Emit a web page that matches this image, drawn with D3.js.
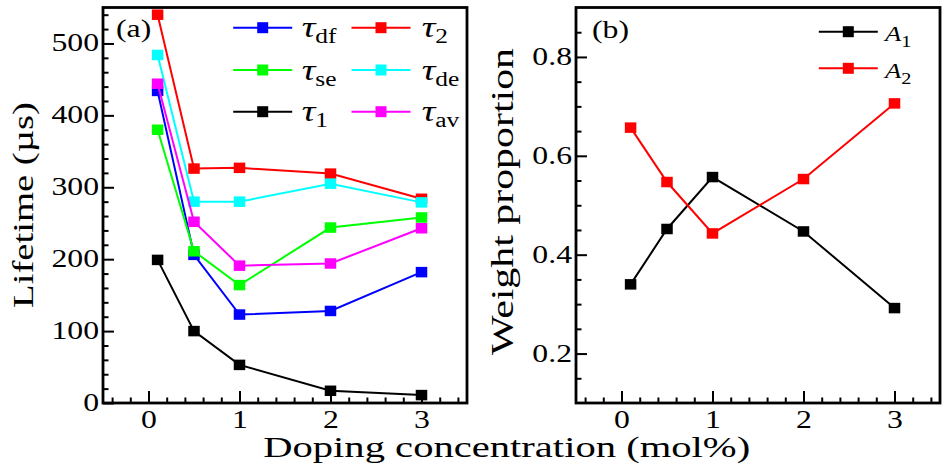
<!DOCTYPE html>
<html><head><meta charset="utf-8">
<script src="https://cdn.jsdelivr.net/npm/d3@7"></script>
<style>
body{margin:0;background:#fff}
svg text{font-family:"Liberation Serif","Times New Roman",serif;fill:#000}
</style>
</head><body>
<svg id="c" width="951" height="476"></svg>
<script>
// ---------- data ----------
const concentration = [0.1, 0.5, 1, 2, 3];
const tauDf = [434, 206, 123, 128, 182];
const tauSe = [380, 211, 164, 244, 258];
const tau1  = [199, 100, 53, 17, 11];
const tau2  = [540, 326, 327, 319, 284];
const tauDe = [484, 280, 280, 305, 279];
const tauAv = [444, 252, 191, 194, 243];
const A1 = [0.340, 0.452, 0.557, 0.447, 0.292];
const A2 = [0.657, 0.547, 0.443, 0.553, 0.706];
const xTickValues = [0, 1, 2, 3];
const lifetimeTickValues = [0, 100, 200, 300, 400, 500];
const weightTickValues = [0.2, 0.4, 0.6, 0.8];
const lifetimeNames = ["df", "se", "1", "2", "de", "av"];
const weightNames = ["1", "2"];

// ---------- styles ----------
const colA = {df:"#0000ff", se:"#00ff00", "1":"#000000", "2":"#ff0000", de:"#00ffff", av:"#ff00ff"};
const colB = {"1":"#000000", "2":"#ff0000"};
const seriesA = [
  {name:"df", values:tauDf}, {name:"se", values:tauSe}, {name:"1", values:tau1},
  {name:"2", values:tau2}, {name:"de", values:tauDe}, {name:"av", values:tauAv}];
const seriesB = [{name:"1", values:A1}, {name:"2", values:A2}];
const STRETCH = 1.27;

const svg = d3.select("#c");

function stretchText(sel, k) {
  sel.each(function(){
    const w = this.getComputedTextLength();
    d3.select(this).attr("textLength", w * k).attr("lengthAdjust", "spacingAndGlyphs");
  });
}

function panel(opt) {
  const {x0, x1, y0, y1, yDomain, yTicks, yMinor, fmt, series, colors} = opt;
  const x = d3.scaleLinear().domain([-0.5, 3.5]).range([x0, x1]);
  const y = d3.scaleLinear().domain(yDomain).range([y1, y0]);
  const g = svg.append("g");

  const xMinor = d3.range(-2, 18).map(i => +(i * 0.2).toFixed(2)).filter(v => Math.abs(v - Math.round(v)) > 1e-6);

  // minor ticks
  g.append("g").attr("transform", `translate(0,${y1})`)
    .call(d3.axisBottom(x).tickValues(xMinor).tickSize(-5.5).tickFormat(""))
    .call(a => a.select(".domain").remove())
    .selectAll("line").attr("stroke-width", 2);
  g.append("g").attr("transform", `translate(${x0},0)`)
    .call(d3.axisLeft(y).tickValues(yMinor).tickSize(-5.5).tickFormat(""))
    .call(a => a.select(".domain").remove())
    .selectAll("line").attr("stroke-width", 2);

  // major ticks
  const xa = g.append("g").attr("transform", `translate(0,${y1})`)
    .call(d3.axisBottom(x).tickValues(xTickValues).tickSize(-12).tickPadding(0).tickFormat(d3.format("d")))
    .call(a => a.select(".domain").remove());
  xa.selectAll("line").attr("stroke-width", 2);
  xa.selectAll("text").attr("font-size", 25).attr("font-family", null).attr("dy", null).attr("y", 25);
  stretchText(xa.selectAll("text"), STRETCH);

  const ya = g.append("g").attr("transform", `translate(${x0},0)`)
    .call(d3.axisLeft(y).tickValues(yTicks).tickSize(-11).tickPadding(4).tickFormat(fmt))
    .call(a => a.select(".domain").remove());
  ya.selectAll("line").attr("stroke-width", 2);
  ya.selectAll("text").attr("font-size", 25).attr("font-family", null).attr("dy", null).attr("y", 7.5);
  stretchText(ya.selectAll("text"), STRETCH);

  // series
  const line = d3.line().x((d, i) => x(concentration[i])).y(d => y(d));
  series.forEach(s => {
    g.append("path").datum(s.values).attr("d", line)
      .attr("fill", "none").attr("stroke", colors[s.name]).attr("stroke-width", 2);
    g.selectAll(null).data(s.values).enter().append("rect")
      .attr("x", (d, i) => x(concentration[i]) - 5.75).attr("y", d => y(d) - 5.25)
      .attr("width", 11.5).attr("height", 10.5).attr("fill", colors[s.name]);
  });

  // frame
  g.append("rect").attr("x", x0).attr("y", y0).attr("width", x1 - x0).attr("height", y1 - y0)
    .attr("fill", "none").attr("stroke", "#000").attr("stroke-width", 2.8);
  return {x, y, g};
}

const pA = panel({x0:103, x1:467, y0:7.5, y1:403, yDomain:[0,550],
  yTicks: lifetimeTickValues, yMinor: d3.range(20, 550, 20).filter(v => v % 100 !== 0),
  fmt: d3.format("d"), series: seriesA, colors: colA});
const pB = panel({x0:576, x1:940, y0:7.5, y1:403, yDomain:[0.1,0.9],
  yTicks: weightTickValues, yMinor: d3.range(3, 18).map(i => +(i*0.05).toFixed(2)).filter(v => Math.abs(v*5 - Math.round(v*5)) > 1e-6),
  fmt: d3.format(".1f"), series: seriesB, colors: colB});

// ---------- legends ----------
function legendEntry(cx, cy, color, main, sub, tx, fs, sfs, shift) {
  svg.append("line").attr("x1", cx - 29.5).attr("x2", cx + 29.5).attr("y1", cy).attr("y2", cy)
    .attr("stroke", color).attr("stroke-width", 2);
  svg.append("rect").attr("x", cx - 5.5).attr("y", cy - 5.5).attr("width", 11).attr("height", 11).attr("fill", color);
  const t = svg.append("text").attr("x", tx).attr("y", cy + 9.5).attr("font-size", fs);
  t.append("tspan").attr("font-style", "italic").text(main);
  t.append("tspan").attr("font-size", sfs).attr("dy", shift).text(sub);
  stretchText(t, STRETCH);
}
const legCols = [{cx:262.7, tx:301.7}, {cx:381, tx:421.7}];
const legRows = [27.7, 70, 111.7];
lifetimeNames.forEach((n, i) => {
  const c = legCols[Math.floor(i / 3)], r = legRows[i % 3];
  legendEntry(c.cx, r, colA[n], "τ", n, c.tx, 30, 20, 6);
});
const legRowsB = [31.7, 68.3];
weightNames.forEach((n, i) => {
  legendEntry(848.3, legRowsB[i], colB[n], "A", n, 885, 21, 16, 6);
});

// ---------- labels ----------
const la = svg.append("text").attr("x", 116).attr("y", 37).attr("font-size", 25).text("(a)");
stretchText(la, STRETCH);
const lb = svg.append("text").attr("x", 592).attr("y", 38).attr("font-size", 25).text("(b)");
stretchText(lb, STRETCH);

svg.append("text").attr("x", 506.7).attr("y", 457).attr("text-anchor", "middle")
  .attr("font-size", 29).attr("textLength", 487).attr("lengthAdjust", "spacingAndGlyphs")
  .text("Doping concentration (mol%)");
svg.append("text").attr("transform", "translate(33,205) rotate(-90)").attr("text-anchor", "middle")
  .attr("font-size", 30).attr("textLength", 206).attr("lengthAdjust", "spacingAndGlyphs")
  .text("Lifetime (µs)");
svg.append("text").attr("transform", "translate(513,201.5) rotate(-90)").attr("text-anchor", "middle")
  .attr("font-size", 31).attr("textLength", 307).attr("lengthAdjust", "spacingAndGlyphs")
  .text("Weight proportion");
</script>
</body></html>
